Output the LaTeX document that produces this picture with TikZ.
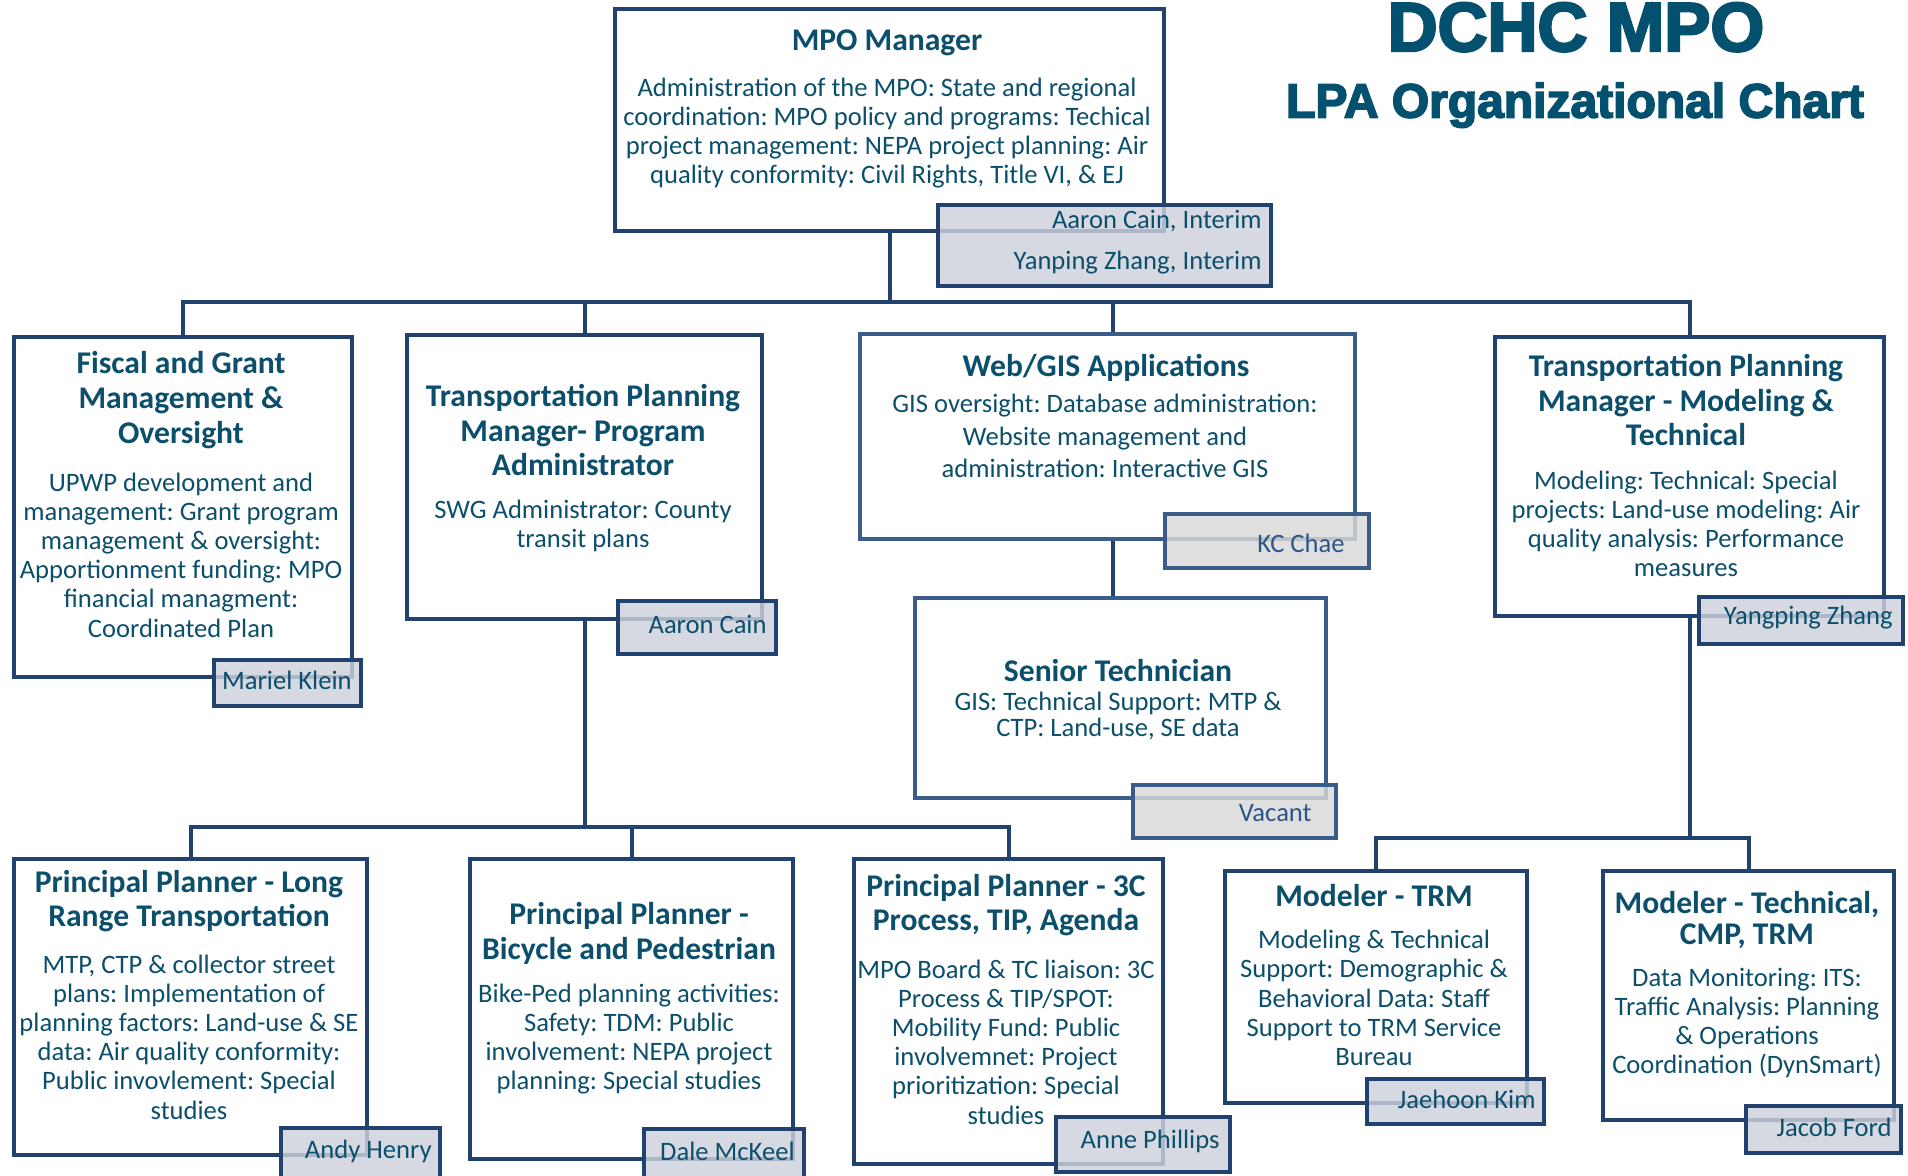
\documentclass[tikz,border=0pt]{standalone}
\usepackage{fontspec}
\setmainfont{Carlito}
\newfontfamily\headfont{Liberation Sans}[FakeBold=3.5]
\usetikzlibrary{calc}
\definecolor{cNavy}{HTML}{21416F}
\definecolor{cNavyL}{HTML}{3A5C8A}
\definecolor{cTxt}{HTML}{0B4F6C}
\definecolor{cNameFill}{HTML}{CDD1DB}
\definecolor{cGrayFill}{HTML}{D9D9D9}
\definecolor{cNameBlue}{HTML}{2D5586}
\definecolor{cHead}{HTML}{04506F}
\newcommand\orgbox[6]{\node[#2, anchor=north west, minimum width={(#5-#3)*0.5pt}, minimum height={(#6-#4)*0.5pt}] (#1) at (#3,#4) {};}
\frenchspacing
\begin{document}
\begin{tikzpicture}[x=0.5pt,y=-0.5pt, line join=miter,
  box/.style={draw=cNavy, line width=2pt, fill=white, inner sep=0},
  boxL/.style={box, draw=cNavyL},
  namebox/.style={draw=cNavy, line width=2pt, fill=cNameFill, fill opacity=0.82, inner sep=0},
  nameboxL/.style={namebox, draw=cNavyL, fill=cGrayFill},
  conn/.style={draw=cNavy, line width=2pt},
  ttl/.style={font=\fontsize{15.8}{17.4}\selectfont\bfseries, text=cTxt, align=center, inner sep=0},
  bod/.style={font=\fontsize{13.3}{14.6}\selectfont, text=cTxt, align=center, inner sep=0},
  nm/.style={font=\fontsize{13.3}{14.6}\selectfont, text=cTxt, inner sep=0, anchor=east},
  nmL/.style={nm, text=cNameBlue}]
\useasboundingbox (0,0) rectangle (1908,1175);
\clip (0,0) rectangle (1908,1175);
\fill[white] (0,0) rectangle (1908,1175);

% boxes
\orgbox{mgr}{box}{613}{7}{1162}{229}
\orgbox{fis}{box}{12}{335}{350}{675}
\orgbox{prg}{box}{405}{333}{760}{617}
\orgbox{web}{boxL}{858}{332}{1353}{537}
\orgbox{sen}{boxL}{913}{596}{1324}{796}
\orgbox{tpm}{box}{1493}{335}{1882}{614}
\orgbox{ppl}{box}{12}{857}{365}{1153}
\orgbox{ppb}{box}{468}{857}{791}{1157}
\orgbox{ppc}{box}{852}{857}{1161}{1162}
\orgbox{mtr}{box}{1223}{869}{1525}{1101}
\orgbox{mte}{box}{1601}{869}{1892}{1118}

% connectors
\coordinate (busA) at (0,302);
\coordinate (busB) at (0,827);
\coordinate (busC) at (0,838);
\coordinate (webX) at (1113,0);
\draw[conn] (fis.north) -- (fis.north |- busA) -- (tpm.north |- busA) -- (tpm.north);
\draw[conn] (mgr.south) -- (mgr.south |- busA);
\draw[conn] (prg.north) -- (prg.north |- busA);
\draw[conn] (webX |- busA) -- (webX |- web.north);
\draw[conn] (webX |- web.south) -- (webX |- sen.north);
\draw[conn] (prg.south) -- (prg.south |- busB);
\draw[conn] (ppl.north) -- (ppl.north |- busB) -- (ppc.north |- busB) -- (ppc.north);
\draw[conn] (ppb.north) -- (ppb.north |- busB);
\draw[conn] (tpm.south) -- (tpm.south |- busC);
\draw[conn] (mtr.north) -- (mtr.north |- busC) -- (mte.north |- busC) -- (mte.north);

% name boxes
\orgbox{mgrN}{namebox}{936}{203}{1269}{284}
\orgbox{fisN}{namebox}{212}{658}{359}{704}
\orgbox{prgN}{namebox}{616}{599}{774}{652}
\orgbox{webN}{nameboxL}{1163}{512}{1367}{566}
\orgbox{senN}{nameboxL}{1131}{783}{1334}{836}
\orgbox{tpmN}{namebox}{1697}{595}{1901}{642}
\orgbox{pplN}{namebox}{279}{1126}{438}{1195}
\orgbox{ppbN}{namebox}{642}{1127}{802}{1195}
\orgbox{ppcN}{namebox}{1054}{1115}{1228}{1170}
\orgbox{mtrN}{namebox}{1365}{1077}{1542}{1122}
\orgbox{mteN}{namebox}{1744}{1104}{1899}{1151}

% headings
\node[font=\headfont\bfseries\fontsize{34.6}{40}\selectfont, text=cHead, anchor=base, inner sep=0] (h1) at (1576,51) {DCHC MPO};
\node[font=\headfont\bfseries\fontsize{24}{28}\selectfont, text=cHead, anchor=base, inner sep=0] (h2) at (1575,117.5) {LPA Organizational Chart};

% MPO manager
\node[ttl] (mgrT) at (887,43) {MPO Manager};
\node[bod] (mgrB) at (887,133) {Administration of the MPO: State and regional\\coordination: MPO policy and programs: Techical\\project management: NEPA project planning: Air\\quality conformity: Civil Rights, Title VI, \& EJ};
\node[nm] (mgrN1) at (1262,221) {Aaron Cain, Interim};
\node[nm] (mgrN2) at (1262,263) {Yanping Zhang, Interim};

% fiscal
\node[ttl] (fisT) at (181,400) {Fiscal and Grant\\Management \&\\Oversight};
\node[bod] (fisB) at (181,555) {UPWP development and\\management: Grant program\\management \& oversight:\\Apportionment funding: MPO\\financial managment:\\Coordinated Plan};
\node[nm] (fisNm) at (352,680) {Mariel Klein};

% program admin
\node[ttl] (prgT) at (583,430) {Transportation Planning\\Manager- Program\\Administrator};
\node[bod] (prgB) at (583,526) {SWG Administrator: County\\transit plans};
\node[nm] (prgNm) at (767,624) {Aaron Cain};

% web/gis
\node[ttl] (webT) at (1106,368) {Web/GIS Applications};
\node[bod, font=\fontsize{13.3}{16.4}\selectfont] (webB) at (1105,436) {GIS oversight: Database administration:\\Website management and\\administration: Interactive GIS};
\node[nmL] (webNm) at (1345,543) {KC Chae};

% senior technician
\node[ttl] (senT) at (1118,671) {Senior Technician};
\node[bod, font=\fontsize{13.3}{13.4}\selectfont] (senB) at (1118,716) {GIS: Technical Support: MTP \&\\CTP: Land-use, SE data};
\node[nmL] (senNm) at (1312,813) {Vacant};

% TPM modeling
\node[ttl] (tpmT) at (1686,400) {Transportation Planning\\Manager - Modeling \&\\Technical};
\node[bod] (tpmB) at (1686,524) {Modeling: Technical: Special\\projects: Land-use modeling: Air\\quality analysis: Performance\\measures};
\node[nm] (tpmNm) at (1893,618) {Yangping Zhang};

% principal planner long range
\node[ttl] (pplT) at (189,901) {Principal Planner - Long\\Range Transportation};
\node[bod] (pplB) at (189,1037) {MTP, CTP \& collector street\\plans: Implementation of\\planning factors: Land-use \& SE\\data: Air quality conformity:\\Public invovlement: Special\\studies};
\node[nm] (pplNm) at (432,1151) {Andy Henry};

% principal planner bike ped
\node[ttl] (ppbT) at (629,933) {Principal Planner -\\Bicycle and Pedestrian};
\node[bod] (ppbB) at (629,1039) {Bike-Ped planning activities:\\Safety: TDM: Public\\involvement: NEPA project\\planning: Special studies};
\node[nm] (ppbNm) at (795,1151) {Dale McKeel};

% principal planner 3C
\node[ttl] (ppcT) at (1006,905) {Principal Planner - 3C\\Process, TIP, Agenda};
\node[bod] (ppcB) at (1006,1042) {MPO Board \& TC liaison: 3C\\Process \& TIP/SPOT:\\Mobility Fund: Public\\involvemnet: Project\\prioritization: Special\\studies};
\node[nm] (ppcNm) at (1220,1141) {Anne Phillips};

% modeler TRM
\node[ttl] (mtrT) at (1374,896) {Modeler - TRM};
\node[bod] (mtrB) at (1374,998) {Modeling \& Technical\\Support: Demographic \&\\Behavioral Data: Staff\\Support to TRM Service\\Bureau};
\node[nm] (mtrNm) at (1536,1099) {Jaehoon Kim};

% modeler technical
\node[ttl, font=\fontsize{15.8}{15.8}\selectfont\bfseries] (mteT) at (1747,920) {Modeler - Technical,\\CMP, TRM};
\node[bod] (mteB) at (1747,1023) {Data Monitoring: ITS:\\Traffic Analysis: Planning\\\& Operations\\Coordination (DynSmart)};
\node[nm] (mteNm) at (1892,1127) {Jacob Ford};
\end{tikzpicture}
\end{document}
